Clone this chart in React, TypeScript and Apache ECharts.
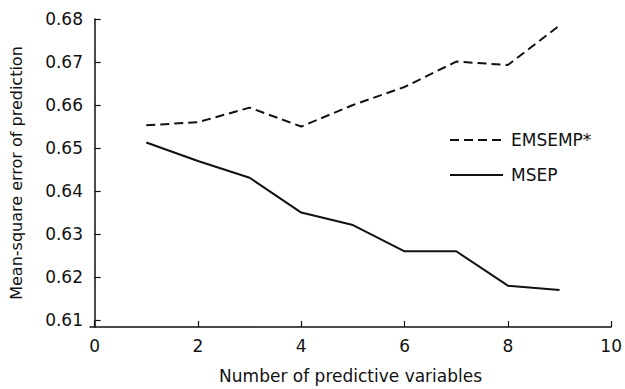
import React, { useEffect, useRef } from "react";
import * as echarts from "echarts";

const xValues = [1, 2, 3, 4, 5, 6, 7, 8, 9];
const emsempValues = [0.6553, 0.656, 0.6594, 0.655, 0.66, 0.6642, 0.6701, 0.6693, 0.6785];
const msepValues = [0.6513, 0.647, 0.6431, 0.635, 0.6321, 0.626, 0.626, 0.618, 0.617];
const xTicks = [0, 2, 4, 6, 8, 10];
const yTicks = [0.61, 0.62, 0.63, 0.64, 0.65, 0.66, 0.67, 0.68];
const seriesNames = ["EMSEMP*", "MSEP"];

const FONT = "DejaVu Sans";
const INK = "#111";

export default function App() {
  const ref = useRef<HTMLDivElement>(null);
  useEffect(() => {
    const chart = echarts.init(ref.current!, null, { renderer: "svg" });
    chart.setOption({
      animation: false,
      backgroundColor: "#fff",
      grid: { left: 87, right: 9, top: 19, bottom: 55, containLabel: false },
      graphic: [
        {
          type: "line",
          shape: { x1: 450, y1: 140, x2: 503, y2: 140 },
          style: { stroke: INK, lineWidth: 2, lineDash: [9, 5] },
        },
        {
          type: "text",
          x: 511,
          y: 140,
          style: { text: seriesNames[0], fontFamily: FONT, fontSize: 17, fill: INK, verticalAlign: "middle" },
        },
        {
          type: "line",
          shape: { x1: 450, y1: 175, x2: 503, y2: 175 },
          style: { stroke: INK, lineWidth: 2 },
        },
        {
          type: "text",
          x: 511,
          y: 175,
          style: { text: seriesNames[1], fontFamily: FONT, fontSize: 17, fill: INK, verticalAlign: "middle" },
        },
      ],
      xAxis: {
        type: "value",
        min: -0.09,
        max: 10,
        name: "Number of predictive variables",
        nameLocation: "middle",
        nameGap: 40,
        nameTextStyle: { fontFamily: FONT, fontSize: 17, color: INK },
        axisLine: { show: true, lineStyle: { color: INK, width: 1.5 } },
        axisTick: { show: true, inside: true, length: 6, customValues: xTicks, lineStyle: { color: INK, width: 1.2 } },
        axisLabel: { customValues: xTicks, fontFamily: FONT, fontSize: 17, color: INK, margin: 10 },
        splitLine: { show: false },
      },
      yAxis: {
        type: "value",
        min: 0.6084,
        max: 0.68,
        name: "Mean-square error of prediction",
        nameLocation: "middle",
        nameGap: 66,
        nameTextStyle: { fontFamily: FONT, fontSize: 16, color: INK },
        axisLine: { show: true, lineStyle: { color: INK, width: 1.5 } },
        axisTick: { show: true, inside: true, length: 6, customValues: yTicks, lineStyle: { color: INK, width: 1.2 } },
        axisLabel: {
          customValues: yTicks,
          fontFamily: FONT,
          fontSize: 17,
          color: INK,
          margin: 7,
          formatter: (v: number) => v.toFixed(2),
        },
        splitLine: { show: false },
      },
      series: [
        {
          name: seriesNames[0],
          type: "line",
          symbol: "none",
          data: xValues.map((x, i) => [x, emsempValues[i]]),
          lineStyle: { color: INK, width: 2, type: [9, 5] },
          itemStyle: { color: INK },
        },
        {
          name: seriesNames[1],
          type: "line",
          symbol: "none",
          data: xValues.map((x, i) => [x, msepValues[i]]),
          lineStyle: { color: INK, width: 2 },
          itemStyle: { color: INK },
        },
      ],
    });
    return () => chart.dispose();
  }, []);
  return <div ref={ref} style={{ width: 625, height: 389, position: "fixed", left: 0, top: 0 }} />;
}
